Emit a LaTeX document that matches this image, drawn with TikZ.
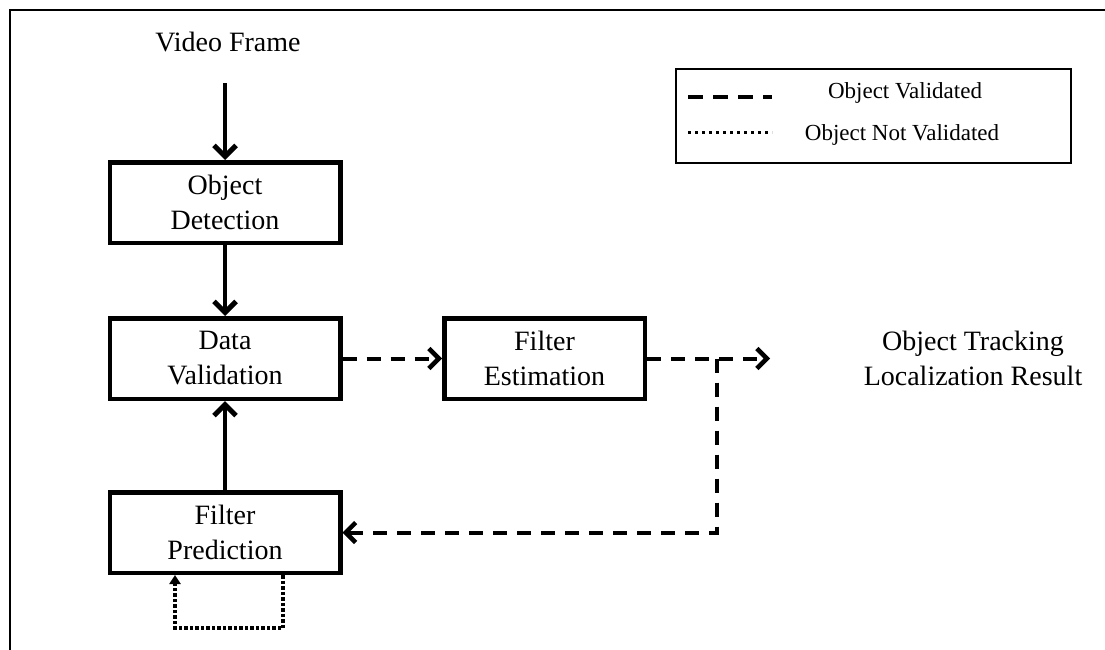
\documentclass[tikz,border=0pt]{standalone}
\usepackage{fontspec}
\setmainfont{Liberation Serif}
\usetikzlibrary{shapes,arrows,arrows.meta}
\tikzstyle{block} = [draw, line width=4.5pt, rectangle, align=center,
    minimum height=80.5pt, minimum width=230.5pt, font=\fontsize{28}{35}\selectfont]
\tikzstyle{flow} = [line width=4pt, -{Straight Barb[length=11pt,width=22pt,line width=5pt]}]
\tikzstyle{valid} = [line width=4pt, dash pattern=on 14pt off 10pt,
    -{Straight Barb[length=10pt,width=20pt,line width=4.5pt]}]
\tikzstyle{notvalid} = [line width=4pt, dash pattern=on 3.5pt off 2pt,
    -{Triangle[length=9pt,width=11pt]}]
\tikzstyle{legtext} = [font=\fontsize{23}{28}\selectfont]

\begin{document}
\begin{tikzpicture}[x=1pt,y=-1pt]
\useasboundingbox (0,0) rectangle (1105,650);
\draw[line width=2pt] (10,650) -- (10,10) -- (1105,10);

\coordinate (split) at (717,358.5);
\coordinate (out) at (770,358.5);

\node[font=\fontsize{28}{35}\selectfont, name=video] at (228,42) {Video Frame};
\node[block, name=det] at (225,202.5) {Object\\Detection};
\node[block, name=val] at (225,358.5) {Data\\Validation};
\node[block, name=pred] at (225,532.5) {Filter\\Prediction};
\node[block, name=est, minimum width=200.5pt] at (544.5,358.5) {Filter\\Estimation};
\node[font=\fontsize{28}{35}\selectfont, align=center, name=result] at (973,358) {Object Tracking\\Localization Result};

\draw[flow, shorten <=28pt] (video.south -| det.north) -- (det.north);
\draw[flow] (det) -- (val);
\draw[flow] (pred) -- (val);

\draw[valid] (val) -- (est);
\draw[valid] (est) -- (out);
\draw[valid] (split) |- (pred.east);
\draw[notvalid] ([xshift=58pt]pred.south) -- ++(0,53) -| ([xshift=-50pt]pred.south);

% legend
\node[draw, line width=1.5pt, minimum width=395pt, minimum height=94pt, name=legend] at (873.5,116) {};
\coordinate (l1) at (688,97);
\coordinate (l2) at (772,97);
\coordinate (l3) at (688,133);
\coordinate (l4) at (772,133);
\draw[line width=3.5pt, dash pattern=on 15pt off 10pt] (l1) -- (l2);
\draw[line width=3pt, dash pattern=on 3pt off 4pt] (l3) -- (l4);
\node[legtext, name=lv] at (905,93) {Object Validated};
\node[legtext, name=lnv] at (902,135) {Object Not Validated};

\end{tikzpicture}
\end{document}
